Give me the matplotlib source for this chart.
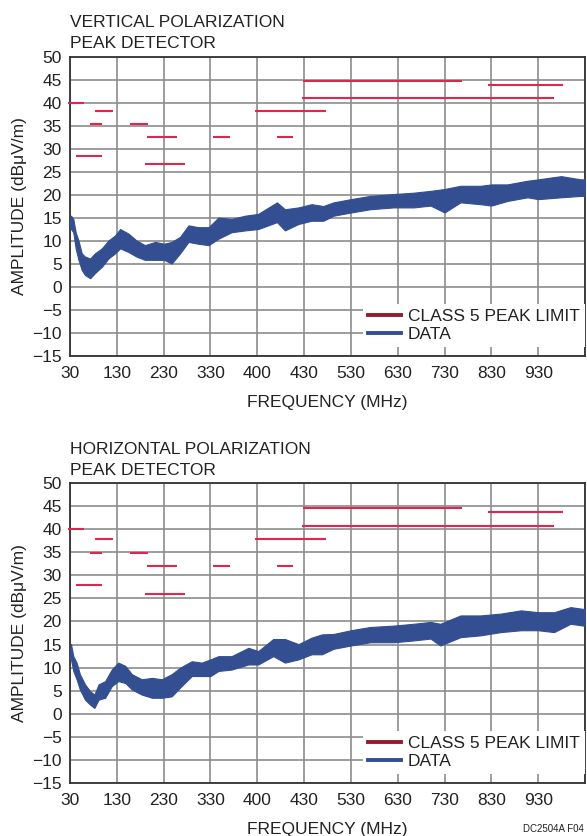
import matplotlib
matplotlib.use("Agg")
import matplotlib.pyplot as plt
from matplotlib.lines import Line2D

plt.rcParams['font.family'] = ['Liberation Sans Narrow', 'Liberation Sans', 'DejaVu Sans']

# x values are in grid divisions (0 = 30MHz, one division per vertical gridline)
tick_labels = ['30', '130', '230', '330', '400', '430', '530', '630', '730', '830', '930']
y_ticks = [50, 45, 40, 35, 30, 25, 20, 15, 10, 5, 0, -5, -10, -15]

# class 5 peak limit segments: level, start, end
lim_top_y = [40.1, 28.5, 35.4, 38.2, 35.4, 32.6, 26.7, 32.6, 38.2, 32.6, 44.8, 41.0, 43.9]
lim_bot_y = [39.9, 27.8, 34.9, 37.9, 34.9, 32.0, 25.9, 32.0, 37.8, 32.0, 44.6, 40.7, 43.7]
lim_x0 = [-0.04, 0.13, 0.43, 0.53, 1.28, 1.64, 1.60, 3.06, 3.95, 4.42, 4.98, 4.96, 8.93]
lim_x1 = [0.30, 0.68, 0.68, 0.92, 1.67, 2.29, 2.46, 3.42, 5.47, 4.76, 8.38, 10.34, 10.53]

# measured trace, read as lower / upper envelope of the noisy band
v_x = [0.0, 0.02, 0.07, 0.12, 0.18, 0.25, 0.32, 0.43, 0.53, 0.68, 0.82,
       0.96, 1.07, 1.25, 1.42, 1.60, 1.82, 2.01, 2.17, 2.35, 2.53,
       2.74, 2.96, 3.17, 3.45, 3.74, 4.02, 4.42, 4.59, 4.88, 5.16,
       5.41, 5.63, 6.0, 6.41, 6.91, 7.34, 7.70, 8.0, 8.34, 8.77,
       9.0, 9.34, 9.77, 10.0, 10.49, 10.91, 11.0]
v_hi = [14.4, 15.5, 14.8, 11.9, 10.1, 7.3, 6.6, 6.2, 7.3, 8.4, 10.1,
        11.2, 12.6, 11.6, 10.1, 9.1, 9.8, 9.4, 9.8, 10.9, 13.4,
        13.0, 13.0, 15.1, 14.8, 15.5, 15.9, 18.4, 16.9, 17.3, 18.0,
        17.6, 18.4, 19.1, 19.8, 20.2, 20.5, 20.9, 21.3, 22.0, 22.0,
        22.3, 22.3, 23.1, 23.4, 24.1, 23.4, 23.4]
v_lo = [12.6, 12.6, 11.9, 8.4, 5.9, 3.7, 2.6, 1.9, 3.0, 4.4, 6.2,
        7.3, 8.4, 7.6, 6.6, 5.9, 5.9, 5.9, 5.1, 7.3, 9.8,
        9.4, 9.1, 10.5, 11.9, 12.3, 12.6, 14.1, 12.3, 13.7, 14.4,
        14.4, 15.5, 16.2, 16.9, 17.3, 17.3, 17.7, 16.2, 18.4, 18.0,
        17.7, 18.7, 19.5, 19.1, 19.5, 19.8, 19.8]

h_x = [0.0, 0.02, 0.07, 0.14, 0.21, 0.32, 0.43, 0.52, 0.61, 0.75,
       0.89, 1.03, 1.18, 1.32, 1.53, 1.75, 1.96, 2.17, 2.35, 2.60,
       2.81, 3.0, 3.17, 3.45, 3.81, 4.02, 4.34, 4.59, 4.88, 5.16,
       5.38, 5.63, 6.0, 6.41, 6.91, 7.34, 7.70, 7.91, 8.34, 8.77,
       9.20, 9.63, 10.0, 10.34, 10.69, 10.97, 11.0]
h_hi = [13.6, 15.1, 12.5, 11.1, 8.6, 6.4, 4.9, 4.2, 6.4, 7.1,
        9.6, 11.1, 10.4, 8.6, 7.5, 7.8, 7.5, 8.6, 10.0, 11.4,
        11.1, 11.8, 12.5, 12.5, 14.3, 13.6, 16.2, 16.2, 15.1, 16.5,
        17.2, 17.3, 18.1, 18.8, 19.1, 19.5, 19.9, 19.5, 21.3, 21.3,
        21.7, 22.4, 22.0, 22.0, 23.1, 22.7, 22.7]
h_lo = [11.8, 11.8, 9.3, 7.5, 5.3, 3.1, 2.0, 1.3, 3.1, 3.5,
        6.0, 7.1, 6.7, 5.3, 4.2, 3.5, 3.5, 3.8, 5.7, 8.2,
        8.2, 8.2, 9.3, 9.6, 10.7, 10.7, 12.5, 11.1, 11.8, 12.9,
        12.9, 14.1, 14.8, 15.5, 15.5, 15.9, 16.3, 14.8, 16.6, 17.0,
        17.7, 18.1, 18.1, 17.7, 19.5, 19.1, 19.1]

LIM_COLOR = '#e0264f'
LEG_RED = '#951b2e'
BLUE = '#334e91'
TXT = '#222222'

fig = plt.figure(figsize=(5.87, 8.36), dpi=100)


def panel(rect, lim_y, xs, lo, hi, title1, title2, t_y1, t_y2):
    ax = fig.add_axes(rect)
    ax.set_xlim(0, 11)
    ax.set_ylim(-15, 50)
    ax.set_xticks(range(12))
    ax.set_xticklabels(tick_labels + [''])
    ax.set_yticks(y_ticks)
    ax.set_yticklabels([str(v).replace('-', '\u2212') for v in y_ticks])
    ax.grid(True, color='#8c8c8c', lw=1.2)
    ax.set_axisbelow(True)
    ax.tick_params(length=0, labelsize=12.5, colors=TXT)
    ax.tick_params(axis='x', pad=7)
    ax.tick_params(axis='y', pad=6)
    for s in ax.spines.values():
        s.set_color('#333333')
        s.set_linewidth(1.3)

    ax.fill_between(xs, lo, hi, color=BLUE, lw=0.8, edgecolor=BLUE, zorder=3)
    ax.hlines(lim_y, lim_x0, lim_x1, color=LIM_COLOR, lw=1.5, zorder=4, clip_on=False)

    ax.set_xlabel('FREQUENCY (MHz)', fontsize=12.5, color=TXT, labelpad=10)
    ax.set_ylabel('AMPLITUDE (dB\u03bcV/m)', fontsize=12.5, color=TXT, labelpad=4)

    handles = [Line2D([], [], color=LEG_RED, lw=2.8),
               Line2D([], [], color=BLUE, lw=2.8)]
    leg = ax.legend(handles, ['CLASS 5 PEAK LIMIT', 'DATA'], loc='lower right',
                    bbox_to_anchor=(1.0, 0.03), borderaxespad=0, fontsize=12.5,
                    frameon=True, fancybox=False, framealpha=1, edgecolor='none',
                    handlelength=1.9, handletextpad=0.4, labelspacing=0.15,
                    borderpad=0.3)
    for t in leg.get_texts():
        t.set_color(TXT)

    fig.text(rect[0], t_y1, title1, fontsize=12.5, color=TXT, va='baseline')
    fig.text(rect[0], t_y2, title2, fontsize=12.5, color=TXT, va='baseline')
    return ax


panel([0.1193, 0.5742, 0.8773, 0.3576], lim_top_y, v_x, v_lo, v_hi,
      'VERTICAL POLARIZATION', 'PEAK DETECTOR', 1 - 27 / 836, 1 - 48.5 / 836)
panel([0.1193, 0.0630, 0.8773, 0.3596], lim_bot_y, h_x, h_lo, h_hi,
      'HORIZONTAL POLARIZATION', 'PEAK DETECTOR', 1 - 454 / 836, 1 - 475.5 / 836)

fig.text(0.994, 1 - 829 / 836, 'DC2504A F04', fontsize=7, color=TXT, ha='right', va='center')

fig.savefig('out.png', dpi=100)
